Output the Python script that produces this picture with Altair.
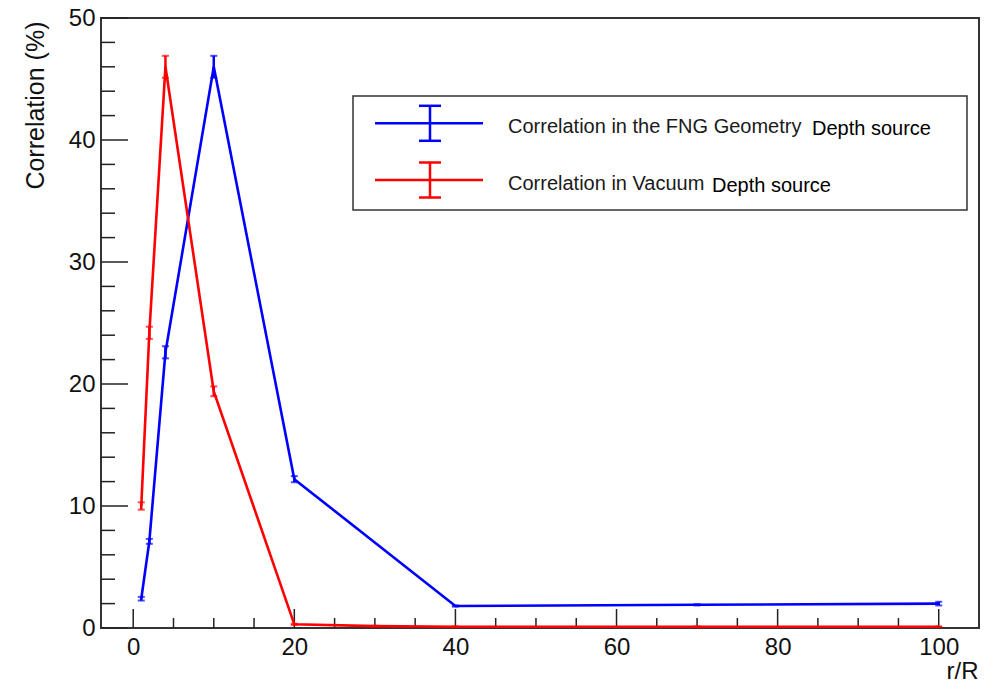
import altair as alt
import pandas as pd

# ---------------- data ----------------
r_fng = [1, 2, 4, 10, 20, 40, 70, 100]
corr_fng = [2.4, 7.1, 22.6, 46.0, 12.2, 1.8, 1.9, 2.0]
err_fng = [0.15, 0.2, 0.5, 0.9, 0.25, 0.05, 0.05, 0.15]

r_vac = [1, 2, 4, 10, 20, 30, 40, 70, 100]
corr_vac = [10.0, 24.2, 46.0, 19.4, 0.3, 0.15, 0.1, 0.1, 0.1]
err_vac = [0.3, 0.5, 0.9, 0.4, 0.05, 0.03, 0.03, 0.03, 0.03]

series_names = ["Correlation in the FNG Geometry", "Correlation in Vacuum"]
series_colors = ["#0000ff", "#ff0000"]
legend_suffix = "Depth source"

x_major = [0, 20, 40, 60, 80, 100]
x_minor = [5, 10, 15, 25, 30, 35, 45, 50, 55, 65, 70, 75, 85, 90, 95]
y_major = [0, 10, 20, 30, 40, 50]
y_minor = [2, 4, 6, 8, 12, 14, 16, 18, 22, 24, 26, 28, 32, 34, 36, 38, 42, 44, 46, 48]

# ---------------- tables ----------------
rows = []
for name, xs, ys, es in [(series_names[0], r_fng, corr_fng, err_fng),
                         (series_names[1], r_vac, corr_vac, err_vac)]:
    for x, y, e in zip(xs, ys, es):
        rows.append({"series": name, "r": x, "corr": y, "lo": y - e, "hi": y + e})
df = pd.DataFrame(rows)

W, H = 878, 610
FONT = "Liberation Sans"

xscale = alt.Scale(domain=[-4, 105], nice=False, zero=False)
yscale = alt.Scale(domain=[0, 50], nice=False, zero=False)
color = alt.Color("series:N", scale=alt.Scale(domain=series_names, range=series_colors), legend=None)

x_axis = alt.Axis(values=x_major, ticks=False, grid=False, domain=False,
                  labelFont=FONT, labelFontSize=24, labelColor="#111", labelPadding=7,
                  title="r/R", titleFont=FONT, titleFontSize=24, titleFontWeight="normal",
                  titleColor="#111", titleX=877, titleY=50, titleAlign="right",
                  titleBaseline="alphabetic")
y_axis = alt.Axis(values=y_major, ticks=False, grid=False, domain=False,
                  labelFont=FONT, labelFontSize=24, labelColor="#111", labelPadding=6,
                  title="Correlation (%)", titleFont=FONT, titleFontSize=25,
                  titleFontWeight="normal", titleColor="#111", titleAngle=270,
                  titleX=-66, titleY=3, titleAlign="right", titleBaseline="middle")

base = alt.Chart(df)

axes_layer = base.mark_point(opacity=0).encode(
    x=alt.X("r:Q", scale=xscale, axis=x_axis),
    y=alt.Y("corr:Q", scale=yscale, axis=y_axis),
)

# inward ticks
tick_color = "#222"
xmaj = alt.Chart(pd.DataFrame({"v": x_major})).mark_rule(color=tick_color, strokeWidth=1.5).encode(
    x=alt.X("v:Q", scale=xscale), y=alt.value(H), y2=alt.value(H - 19))
xmin = alt.Chart(pd.DataFrame({"v": x_minor})).mark_rule(color=tick_color, strokeWidth=1.5).encode(
    x=alt.X("v:Q", scale=xscale), y=alt.value(H), y2=alt.value(H - 10))
ymaj = alt.Chart(pd.DataFrame({"v": y_major})).mark_rule(color=tick_color, strokeWidth=1.5).encode(
    y=alt.Y("v:Q", scale=yscale), x=alt.value(0), x2=alt.value(27))
ymin = alt.Chart(pd.DataFrame({"v": y_minor})).mark_rule(color=tick_color, strokeWidth=1.5).encode(
    y=alt.Y("v:Q", scale=yscale), x=alt.value(0), x2=alt.value(14))

data_layers = []
for name in series_names:
    sub = base.transform_filter(alt.datum.series == name)
    line = sub.mark_line(strokeWidth=2.6).encode(
        x=alt.X("r:Q", scale=xscale), y=alt.Y("corr:Q", scale=yscale), color=color)
    bars = sub.mark_rule(strokeWidth=2.5).encode(
        x=alt.X("r:Q", scale=xscale), y=alt.Y("lo:Q", scale=yscale), y2="hi:Q", color=color)
    cap_lo = sub.mark_tick(orient="horizontal", size=7, thickness=2).encode(
        x=alt.X("r:Q", scale=xscale), y=alt.Y("lo:Q", scale=yscale), color=color)
    cap_hi = sub.mark_tick(orient="horizontal", size=7, thickness=2).encode(
        x=alt.X("r:Q", scale=xscale), y=alt.Y("hi:Q", scale=yscale), color=color)
    data_layers += [line, bars, cap_lo, cap_hi]

# manual legend (ROOT TLegend look)
one = pd.DataFrame({"a": [0]})
leg = [alt.Chart(one).mark_rect(fill="white", stroke="#333", strokeWidth=1.5).encode(
    x=alt.value(252), x2=alt.value(866), y=alt.value(78), y2=alt.value(192))]
row_y = [105.3, 162.0]
suffix_x = [711, 611]
for i, name in enumerate(series_names):
    c = series_colors[i]
    yy = row_y[i]
    leg.append(alt.Chart(one).mark_rule(color=c, strokeWidth=2.5).encode(
        x=alt.value(274), x2=alt.value(382), y=alt.value(yy)))
    leg.append(alt.Chart(one).mark_rule(color=c, strokeWidth=2.5).encode(
        x=alt.value(329), y=alt.value(yy - 17.5), y2=alt.value(yy + 17.5)))
    for dy in (-17.5, 17.5):
        leg.append(alt.Chart(one).mark_rule(color=c, strokeWidth=2.5).encode(
            x=alt.value(318), x2=alt.value(340), y=alt.value(yy + dy)))
    leg.append(alt.Chart(one).mark_text(text=name, align="left", baseline="alphabetic",
                                         font=FONT, fontSize=20, color="#1a1a1a").encode(
        x=alt.value(407), y=alt.value(yy + 10)))
    leg.append(alt.Chart(one).mark_text(text=legend_suffix, align="left", baseline="alphabetic",
                                         font=FONT, fontSize=20, color="#000").encode(
        x=alt.value(suffix_x[i]), y=alt.value(yy + 11.5)))

chart = alt.layer(axes_layer, xmaj, xmin, ymaj, ymin, *data_layers, *leg).properties(
    width=W, height=H,
    autosize=alt.AutoSizeParams(type="none"),
    padding={"left": 101, "top": 18, "right": 12, "bottom": 55},
    background="white",
).configure_view(stroke="#333", strokeWidth=2)

chart.save("out.html", embed_options={"renderer": "svg", "actions": False})
